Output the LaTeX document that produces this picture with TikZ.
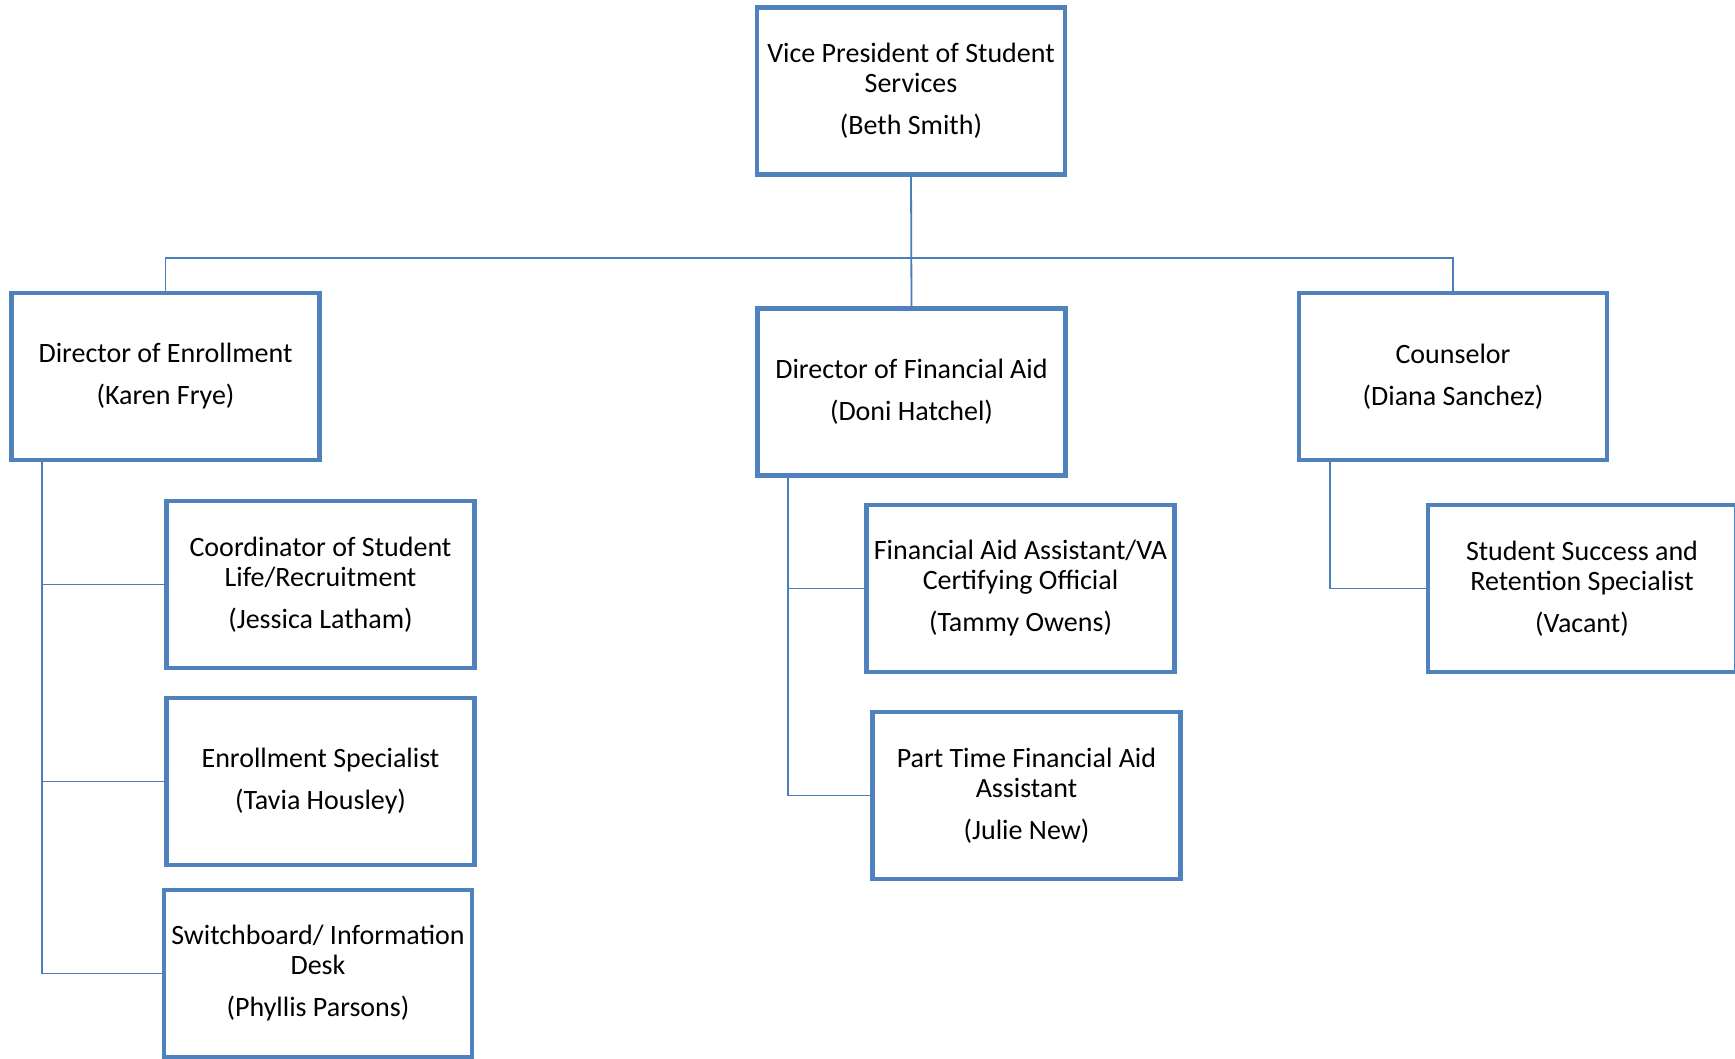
\documentclass[tikz,border=0pt]{standalone}
\usepackage{fontspec}
\setmainfont{Carlito}
\definecolor{boxblue}{HTML}{4F81BD}
\definecolor{linkblue}{HTML}{4A7EBB}
\tikzset{
  orgbox/.style={draw=boxblue, line width=4.5pt, rectangle, minimum width=308pt,
    minimum height=167pt, inner sep=0pt, align=center, fill=white,
    font=\fontsize{28}{30}\selectfont},
  link/.style={draw=linkblue, line width=1.8pt}
}
\begin{document}
\begin{tikzpicture}[x=1pt,y=-1pt]
\useasboundingbox (0,0) rectangle (1735,1058);
\fill[white] (0,0) rectangle (1735,1058);

% top level
\node[orgbox] (vp) at (911,91) {Vice President of Student\\Services\\[12pt](Beth Smith)};

% directors
\node[orgbox] (enr) at (165.5,376.5) {Director of Enrollment\\[12pt](Karen Frye)};
\node[orgbox] (fa) at (911.5,392) {Director of Financial Aid\\[12pt](Doni Hatchel)};
\node[orgbox] (cou) at (1453,376.5) {Counselor\\[12pt](Diana Sanchez)};

% enrollment staff
\node[orgbox] (coord) at (320.5,584.5) {Coordinator of Student\\Life/Recruitment\\[12pt](Jessica Latham)};
\node[orgbox] (espec) at (320.5,781.5) {Enrollment Specialist\\[12pt](Tavia Housley)};
\node[orgbox] (switch) at (318,973.5) {Switchboard/ Information\\Desk\\[12pt](Phyllis Parsons)};

% financial aid staff
\node[orgbox] (faa) at (1020.5,588.5) {Financial Aid Assistant/VA\\Certifying Official\\[12pt](Tammy Owens)};
\node[orgbox] (pt) at (1026.5,795.5) {Part Time Financial Aid\\Assistant\\[12pt](Julie New)};

% counseling staff
\node[orgbox] (ssr) at (1582,588.5) {Student Success and\\Retention Specialist\\[12pt](Vacant)};

% connectors
\coordinate (bus) at (911,258);
\coordinate (enrtap) at ([xshift=33pt]enr.south west);
\coordinate (fatap) at ([xshift=33pt]fa.south west);
\coordinate (coutap) at ([xshift=33pt]cou.south west);

\draw[link] (vp.south) -- (fa.north);
\draw[link] (enr.north) |- (bus) -| (cou.north);
\draw[link] (enrtap) |- (coord.west);
\draw[link] (enrtap) |- (espec.west);
\draw[link] (enrtap) |- (switch.west);
\draw[link] (fatap) |- (faa.west);
\draw[link] (fatap) |- (pt.west);
\draw[link] (coutap) |- (ssr.west);
\end{tikzpicture}
\end{document}
